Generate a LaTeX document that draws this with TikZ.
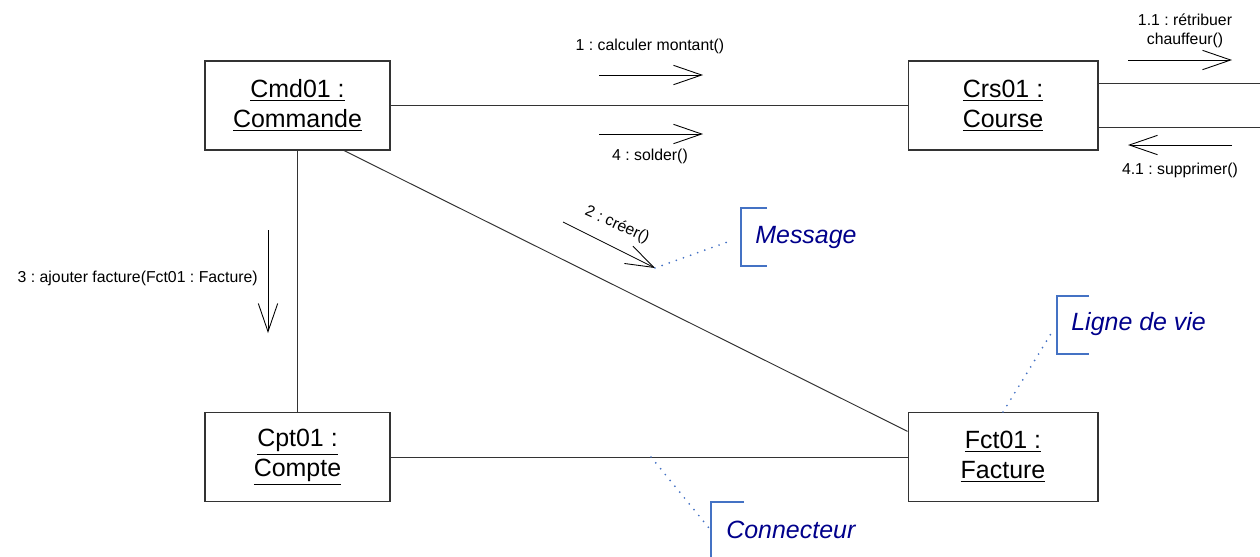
\documentclass[tikz,border=0pt]{standalone}
\usepackage{fontspec}
\setmainfont{Liberation Sans}
\usetikzlibrary{arrows.meta, positioning, calc}
\definecolor{notebrd}{RGB}{68, 114, 196}
\definecolor{notetxt}{RGB}{0, 0, 139}
\frenchspacing

\begin{document}
\begin{tikzpicture}[x=0.02cm, y=-0.02cm,
  obj/.style={draw=black!80, line width=0.6pt, minimum width=3.7cm, minimum height=1.78cm, align=center, font=\fontsize{14.2}{17}\selectfont, inner sep=0pt},
  link/.style={draw=black!80, line width=0.55pt},
  msg/.style={draw=black, line width=0.5pt, -{Straight Barb[length=16pt, width=11pt, line width=0.5pt]}},
  msglbl/.style={font=\fontsize{9}{10.5}\selectfont, align=center, inner sep=0pt},
  note/.style={font=\itshape\fontsize{14.2}{17}\selectfont, text=notetxt, anchor=west, inner sep=0pt},
  bracket/.style={draw=notebrd, line width=1.4pt},
  anchorline/.style={draw=notebrd, line width=1.1pt, dash pattern=on 0pt off 4.3pt, line cap=round}
]
  \useasboundingbox (0,0) rectangle (1260,556);

  % objets
  \node[obj] (cmd) at (297.5,105.5) {\underline{Cmd01 :}\\\underline{Commande}};
  \node[obj, minimum width=3.8cm] (crs) at (1003,105.5) {\underline{Crs01 :}\\\underline{Course}};
  \node[obj] (cpt) at (297.5,457) {\underline{Cpt01 :}\\\underline{Compte}};
  \node[obj, minimum width=3.8cm] (fct) at (1003,457) {\underline{Fct01 :}\\\underline{Facture}};

  % liens
  \draw[link] (cmd) -- (crs);
  \draw[link] (cmd) -- (cpt);
  \draw[link] (cpt) -- (fct);
  \draw[link] ($(cmd.south)!0.5!(cmd.south east)$) -- ($(fct.north west)!0.43!(fct.west)$);
  \coordinate (outA) at (1260,83);
  \coordinate (outB) at (1260,127);
  \draw[link] (crs.east |- outA) -- (outA);
  \draw[link] (crs.east |- outB) -- (outB);

  % messages
  \coordinate (m1s) at (599,75);
  \coordinate (m1e) at (703,75);
  \draw[msg] (m1s) -- (m1e);
  \node[msglbl] (m1) at (650,46) {1 : calculer montant()};

  \coordinate (m4s) at (599,134);
  \coordinate (m4e) at (703,134);
  \draw[msg] (m4s) -- (m4e);
  \node[msglbl] (m4) at (650,156) {4 : solder()};

  \coordinate (m11s) at (1128,60);
  \coordinate (m11e) at (1232,60);
  \draw[msg] (m11s) -- (m11e);
  \node[msglbl] (m11) at (1185,31) {1.1 : rétribuer\\chauffeur()};

  \coordinate (m41s) at (1232,145);
  \coordinate (m41e) at (1128,145);
  \draw[msg] (m41s) -- (m41e);
  \node[msglbl] (m41) at (1180,170) {4.1 : supprimer()};

  \coordinate (m3s) at (268,230);
  \coordinate (m3e) at (268,333);
  \draw[msg] (m3s) -- (m3e);
  \node[msglbl, anchor=east] (m3) at (258,278) {3 : ajouter facture(Fct01 : Facture)};

  \coordinate (m2s) at (563,222);
  \coordinate (m2e) at (655,268);
  \draw[msg] (m2s) -- (m2e);
  \node[msglbl, rotate=-24] (m2) at (617,225) {2 : créer()};

  % annotations
  \draw[bracket] (767,208) -- (741,208) -- (741,266) -- (767,266);
  \node[note] (nMsg) at (755,237) {Message};
  \coordinate (bMsg) at (733,240);
  \draw[anchorline] (m2e) -- (bMsg);

  \draw[bracket] (1089,296) -- (1057,296) -- (1057,354) -- (1089,354);
  \node[note] (nVie) at (1071,324) {Ligne de vie};
  \coordinate (bVie) at (1052,332);
  \draw[anchorline] (fct.north) -- (bVie);

  \draw[bracket] (744,502) -- (711,502) -- (711,560);
  \node[note] (nCon) at (726,530) {Connecteur};
  \coordinate (pCon) at (651,457);
  \coordinate (bCon) at (709,528);
  \draw[anchorline] (pCon) -- (bCon);
\end{tikzpicture}
\end{document}
